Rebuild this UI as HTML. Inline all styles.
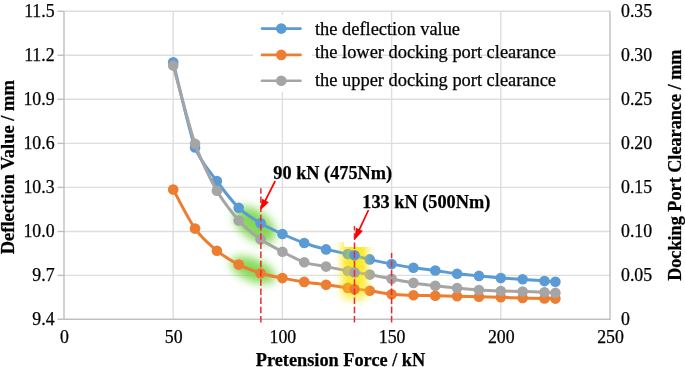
<!DOCTYPE html>
<html><head><meta charset="utf-8"><style>
html,body{margin:0;padding:0;background:#fff;width:685px;height:367px;overflow:hidden}
svg{display:block;filter:blur(0.4px);font-family:"Liberation Serif",serif;fill:#000}
text{stroke:#000;stroke-width:0.25px}
</style></head><body>
<svg width="685" height="367" viewBox="0 0 685 367">
<defs><filter id="blur6" x="-50%" y="-50%" width="200%" height="200%"><feGaussianBlur stdDeviation="5"/></filter><filter id="blur4" x="-50%" y="-50%" width="200%" height="200%"><feGaussianBlur stdDeviation="4"/></filter></defs>
<g stroke="#dedede" stroke-width="1.4"><line x1="64.0" y1="11.30" x2="610.0" y2="11.30"/><line x1="64.0" y1="55.30" x2="610.0" y2="55.30"/><line x1="64.0" y1="99.30" x2="610.0" y2="99.30"/><line x1="64.0" y1="143.40" x2="610.0" y2="143.40"/><line x1="64.0" y1="187.40" x2="610.0" y2="187.40"/><line x1="64.0" y1="231.50" x2="610.0" y2="231.50"/><line x1="64.0" y1="275.40" x2="610.0" y2="275.40"/><line x1="173.20" y1="11.3" x2="173.20" y2="319.3"/><line x1="282.40" y1="11.3" x2="282.40" y2="319.3"/><line x1="391.60" y1="11.3" x2="391.60" y2="319.3"/><line x1="500.80" y1="11.3" x2="500.80" y2="319.3"/></g>
<g stroke="#bfbfbf" stroke-width="1.4"><line x1="64.0" y1="11.3" x2="64.0" y2="319.30"/><line x1="57.5" y1="319.30" x2="610.6" y2="319.30"/><line x1="610.0" y1="11.3" x2="610.0" y2="319.30"/><line x1="57.5" y1="11.30" x2="64.0" y2="11.30"/><line x1="57.5" y1="55.30" x2="64.0" y2="55.30"/><line x1="57.5" y1="99.30" x2="64.0" y2="99.30"/><line x1="57.5" y1="143.40" x2="64.0" y2="143.40"/><line x1="57.5" y1="187.40" x2="64.0" y2="187.40"/><line x1="57.5" y1="231.50" x2="64.0" y2="231.50"/><line x1="57.5" y1="275.40" x2="64.0" y2="275.40"/></g>
<g filter="url(#blur6)" fill="#6fd33a" opacity="0.85"><ellipse cx="255" cy="225" rx="24" ry="14" transform="rotate(38 255 225)"/><ellipse cx="253" cy="270" rx="24" ry="11" transform="rotate(22 253 270)"/></g>
<clipPath id="yc"><rect x="300" y="247" width="120" height="80"/><rect x="300" y="242" width="44" height="6"/></clipPath>
<linearGradient id="yg" x1="0" y1="0" x2="0" y2="1"><stop offset="0" stop-color="#fbe72c"/><stop offset="0.55" stop-color="#fbe83a"/><stop offset="1" stop-color="#fcf290"/></linearGradient>
<g clip-path="url(#yc)"><rect x="343" y="240" width="23" height="58" fill="url(#yg)" filter="url(#blur4)"/></g>
<rect x="253" y="15" width="59" height="77" fill="#fff"/>
<path d="M173.20,62.30 C175.82,72.52 189.80,133.26 195.04,147.50 C200.28,161.74 211.64,173.76 216.88,181.00 C222.12,188.24 233.48,202.74 238.72,207.80 C243.96,212.86 255.32,220.06 260.56,223.20 C265.80,226.34 277.16,231.62 282.40,234.00 C287.64,236.38 299.00,241.15 304.24,243.00 C309.48,244.85 320.84,248.08 326.08,249.40 C331.32,250.72 342.68,252.80 347.92,254.00 C353.16,255.20 364.52,258.19 369.76,259.40 C375.00,260.61 386.36,263.10 391.60,264.10 C396.84,265.10 408.20,266.93 413.44,267.70 C418.68,268.47 430.04,269.77 435.28,270.50 C440.52,271.23 451.88,273.15 457.12,273.80 C462.36,274.45 473.72,275.40 478.96,275.90 C484.20,276.40 495.56,277.60 500.80,278.00 C506.04,278.40 517.40,278.83 522.64,279.20 C527.88,279.57 540.55,280.80 544.48,281.10 C548.41,281.40 554.09,281.63 555.40,281.70" fill="none" stroke="#5b9bd5" stroke-width="3" stroke-linejoin="round" stroke-linecap="round"/><circle cx="173.20" cy="62.30" r="5.3" fill="#5b9bd5"/><circle cx="195.04" cy="147.50" r="5.3" fill="#5b9bd5"/><circle cx="216.88" cy="181.00" r="5.3" fill="#5b9bd5"/><circle cx="238.72" cy="207.80" r="5.3" fill="#5b9bd5"/><circle cx="260.56" cy="223.20" r="5.3" fill="#5b9bd5"/><circle cx="282.40" cy="234.00" r="5.3" fill="#5b9bd5"/><circle cx="304.24" cy="243.00" r="5.3" fill="#5b9bd5"/><circle cx="326.08" cy="249.40" r="5.3" fill="#5b9bd5"/><circle cx="347.92" cy="254.00" r="5.3" fill="#5b9bd5"/><circle cx="369.76" cy="259.40" r="5.3" fill="#5b9bd5"/><circle cx="391.60" cy="264.10" r="5.3" fill="#5b9bd5"/><circle cx="413.44" cy="267.70" r="5.3" fill="#5b9bd5"/><circle cx="435.28" cy="270.50" r="5.3" fill="#5b9bd5"/><circle cx="457.12" cy="273.80" r="5.3" fill="#5b9bd5"/><circle cx="478.96" cy="275.90" r="5.3" fill="#5b9bd5"/><circle cx="500.80" cy="278.00" r="5.3" fill="#5b9bd5"/><circle cx="522.64" cy="279.20" r="5.3" fill="#5b9bd5"/><circle cx="544.48" cy="281.10" r="5.3" fill="#5b9bd5"/><circle cx="555.40" cy="281.70" r="5.3" fill="#5b9bd5"/>
<path d="M173.20,189.50 C176.69,195.76 188.05,218.81 195.04,228.60 C202.03,238.39 209.89,244.94 216.88,250.70 C223.87,256.46 231.73,260.98 238.72,264.60 C245.71,268.22 253.57,271.14 260.56,273.30 C267.55,275.46 275.41,276.72 282.40,278.10 C289.39,279.48 297.25,280.84 304.24,281.90 C311.23,282.96 319.09,283.74 326.08,284.70 C333.07,285.66 340.93,286.94 347.92,287.90 C354.91,288.86 362.77,289.68 369.76,290.70 C376.75,291.72 384.61,293.56 391.60,294.30 C398.59,295.04 406.45,295.08 413.44,295.30 C420.43,295.52 428.29,295.54 435.28,295.70 C442.27,295.86 450.13,296.14 457.12,296.30 C464.11,296.46 471.97,296.54 478.96,296.70 C485.95,296.86 493.81,297.09 500.80,297.30 C507.79,297.51 515.65,297.82 522.64,298.00 C529.63,298.18 539.24,298.30 544.48,298.40 C549.72,298.50 553.65,298.57 555.40,298.60" fill="none" stroke="#ed7d31" stroke-width="3" stroke-linejoin="round" stroke-linecap="round"/><circle cx="173.20" cy="189.50" r="5.3" fill="#ed7d31"/><circle cx="195.04" cy="228.60" r="5.3" fill="#ed7d31"/><circle cx="216.88" cy="250.70" r="5.3" fill="#ed7d31"/><circle cx="238.72" cy="264.60" r="5.3" fill="#ed7d31"/><circle cx="260.56" cy="273.30" r="5.3" fill="#ed7d31"/><circle cx="282.40" cy="278.10" r="5.3" fill="#ed7d31"/><circle cx="304.24" cy="281.90" r="5.3" fill="#ed7d31"/><circle cx="326.08" cy="284.70" r="5.3" fill="#ed7d31"/><circle cx="347.92" cy="287.90" r="5.3" fill="#ed7d31"/><circle cx="369.76" cy="290.70" r="5.3" fill="#ed7d31"/><circle cx="391.60" cy="294.30" r="5.3" fill="#ed7d31"/><circle cx="413.44" cy="295.30" r="5.3" fill="#ed7d31"/><circle cx="435.28" cy="295.70" r="5.3" fill="#ed7d31"/><circle cx="457.12" cy="296.30" r="5.3" fill="#ed7d31"/><circle cx="478.96" cy="296.70" r="5.3" fill="#ed7d31"/><circle cx="500.80" cy="297.30" r="5.3" fill="#ed7d31"/><circle cx="522.64" cy="298.00" r="5.3" fill="#ed7d31"/><circle cx="544.48" cy="298.40" r="5.3" fill="#ed7d31"/><circle cx="555.40" cy="298.60" r="5.3" fill="#ed7d31"/>
<path d="M173.20,65.50 C175.82,74.90 189.80,128.76 195.04,143.80 C200.28,158.84 211.64,181.60 216.88,190.80 C222.12,200.00 233.48,214.69 238.72,220.50 C243.96,226.31 255.32,235.46 260.56,239.20 C265.80,242.94 277.16,248.93 282.40,251.70 C287.64,254.47 299.00,260.51 304.24,262.30 C309.48,264.09 320.84,265.56 326.08,266.60 C331.32,267.64 342.68,270.04 347.92,271.00 C353.16,271.96 364.52,273.66 369.76,274.60 C375.00,275.54 386.36,277.80 391.60,278.80 C396.84,279.80 408.20,282.06 413.44,282.90 C418.68,283.74 430.04,285.18 435.28,285.80 C440.52,286.42 451.88,287.60 457.12,288.10 C462.36,288.60 473.72,289.65 478.96,290.00 C484.20,290.35 495.56,290.82 500.80,291.00 C506.04,291.18 517.40,291.34 522.64,291.50 C527.88,291.66 540.55,292.13 544.48,292.30 C548.41,292.47 554.09,292.83 555.40,292.90" fill="none" stroke="#a5a5a5" stroke-width="3" stroke-linejoin="round" stroke-linecap="round"/><circle cx="173.20" cy="65.50" r="5.3" fill="#a5a5a5"/><circle cx="195.04" cy="143.80" r="5.3" fill="#a5a5a5"/><circle cx="216.88" cy="190.80" r="5.3" fill="#a5a5a5"/><circle cx="238.72" cy="220.50" r="5.3" fill="#a5a5a5"/><circle cx="260.56" cy="239.20" r="5.3" fill="#a5a5a5"/><circle cx="282.40" cy="251.70" r="5.3" fill="#a5a5a5"/><circle cx="304.24" cy="262.30" r="5.3" fill="#a5a5a5"/><circle cx="326.08" cy="266.60" r="5.3" fill="#a5a5a5"/><circle cx="347.92" cy="271.00" r="5.3" fill="#a5a5a5"/><circle cx="369.76" cy="274.60" r="5.3" fill="#a5a5a5"/><circle cx="391.60" cy="278.80" r="5.3" fill="#a5a5a5"/><circle cx="413.44" cy="282.90" r="5.3" fill="#a5a5a5"/><circle cx="435.28" cy="285.80" r="5.3" fill="#a5a5a5"/><circle cx="457.12" cy="288.10" r="5.3" fill="#a5a5a5"/><circle cx="478.96" cy="290.00" r="5.3" fill="#a5a5a5"/><circle cx="500.80" cy="291.00" r="5.3" fill="#a5a5a5"/><circle cx="522.64" cy="291.50" r="5.3" fill="#a5a5a5"/><circle cx="544.48" cy="292.30" r="5.3" fill="#a5a5a5"/><circle cx="555.40" cy="292.90" r="5.3" fill="#a5a5a5"/>
<g clip-path="url(#yc)"><rect x="343" y="238" width="23" height="60" fill="#ffe800" opacity="0.45" filter="url(#blur4)"/></g>
<circle cx="354.47" cy="255.20" r="5.3" fill="#5b9bd5"/>
<circle cx="354.47" cy="272.40" r="5.3" fill="#a5a5a5"/>
<circle cx="354.47" cy="289.20" r="5.3" fill="#ed7d31"/>
<g stroke="#e62c32" stroke-width="1.5" stroke-dasharray="6.5 2.7"><line x1="260.86" y1="322.5" x2="260.86" y2="188.3"/><line x1="354.47" y1="322.5" x2="354.47" y2="225.9"/><line x1="391.60" y1="322.5" x2="391.60" y2="253"/></g>
<line x1="275.20" y1="181.00" x2="264.91" y2="201.37" stroke="#ff0000" stroke-width="1.7"/><polygon points="260.40,210.30 261.88,198.72 268.84,202.24" fill="#ff0000"/>
<line x1="368.50" y1="210.00" x2="358.97" y2="230.34" stroke="#ff0000" stroke-width="1.7"/><polygon points="354.30,240.30 355.95,227.82 362.83,231.05" fill="#ff0000"/>
<g font-size="18.4"><line x1="262" y1="28.6" x2="300.5" y2="28.6" stroke="#5b9bd5" stroke-width="2.6" stroke-linecap="round"/><circle cx="281.3" cy="28.6" r="5.3" fill="#5b9bd5"/><text x="315" y="34.8">the deflection value</text><line x1="262" y1="54.9" x2="300.5" y2="54.9" stroke="#ed7d31" stroke-width="2.6" stroke-linecap="round"/><circle cx="281.3" cy="54.9" r="5.3" fill="#ed7d31"/><text x="315" y="58.4">the lower docking port clearance</text><line x1="262" y1="80.7" x2="300.5" y2="80.7" stroke="#a5a5a5" stroke-width="2.6" stroke-linecap="round"/><circle cx="281.3" cy="80.7" r="5.3" fill="#a5a5a5"/><text x="315" y="86.0">the upper docking port clearance</text></g>
<g font-size="17.8"><text x="54.6" y="16.70" text-anchor="end">11.5</text><text x="54.6" y="60.70" text-anchor="end">11.2</text><text x="54.6" y="104.70" text-anchor="end">10.9</text><text x="54.6" y="148.80" text-anchor="end">10.6</text><text x="54.6" y="192.80" text-anchor="end">10.3</text><text x="54.6" y="236.90" text-anchor="end">10.0</text><text x="54.6" y="280.80" text-anchor="end">9.7</text><text x="54.6" y="324.70" text-anchor="end">9.4</text><text x="621.0" y="16.70">0.35</text><text x="621.0" y="60.70">0.30</text><text x="621.0" y="104.70">0.25</text><text x="621.0" y="148.80">0.20</text><text x="621.0" y="192.80">0.15</text><text x="621.0" y="236.90">0.10</text><text x="621.0" y="280.80">0.05</text><text x="621.0" y="324.70">0</text><text x="64.50" y="342.6" text-anchor="middle">0</text><text x="173.70" y="342.6" text-anchor="middle">50</text><text x="282.90" y="342.6" text-anchor="middle">100</text><text x="392.10" y="342.6" text-anchor="middle">150</text><text x="501.30" y="342.6" text-anchor="middle">200</text><text x="610.50" y="342.6" text-anchor="middle">250</text></g>
<g font-size="18.3" font-weight="bold"><text x="340.5" y="365.5" text-anchor="middle">Pretension Force / kN</text><text font-size="18.5" transform="translate(13.6 167.2) rotate(-90)" text-anchor="middle">Deflection Value / mm</text><text font-size="18.2" transform="translate(680.8 165.2) rotate(-90)" text-anchor="middle">Docking Port Clearance / mm</text><text x="273.3" y="179">90 kN (475Nm)</text><text x="362.3" y="208">133 kN (500Nm)</text></g>
</svg>
</body></html>
